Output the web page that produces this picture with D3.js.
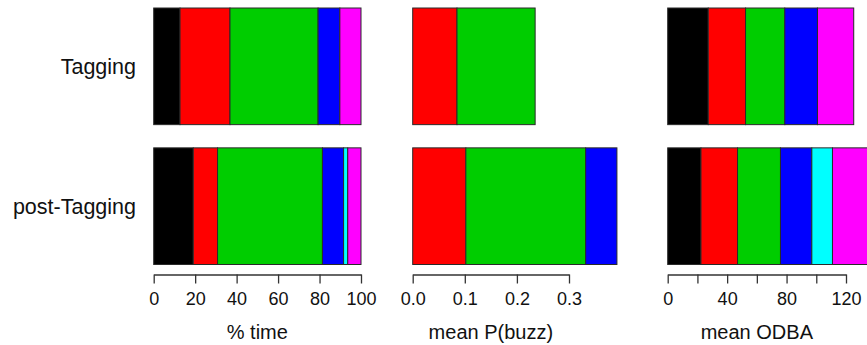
<!DOCTYPE html>
<html>
<head>
<meta charset="utf-8">
<script src="https://cdn.jsdelivr.net/npm/d3@7"></script>
<style>
  html, body { margin: 0; padding: 0; background: #fff; }
  svg { display: block; font-family: "Liberation Sans", Arial, sans-serif; }
</style>
</head>
<body>
<svg id="chart" width="867" height="345"></svg>
<script>
// Rows (tagging period) and behavioural states
const rows = ["Tagging", "post-Tagging"];
const states = ["rest", "travel", "forage", "socialise", "other", "unknown"];
const stateColours = ["#000000", "#FF0000", "#00CD00", "#0000FF", "#00FFFF", "#FF00FF"];

// Percentage of time spent in each state
const pctTime = [
  [12.7, 24.1, 42.5, 10.5, 0, 10.2],
  [19.1, 11.7, 50.6, 10.2, 2.0, 6.4]
];
// Mean probability of a buzz per state
const meanBuzz = [
  [0, 0.085, 0.150, 0, 0, 0],
  [0, 0.102, 0.230, 0.060, 0, 0]
];
// Mean ODBA per state
const meanOdba = [
  [27.3, 25.1, 26.4, 22.0, 0, 24.4],
  [22.4, 24.6, 28.9, 21.1, 13.9, 30.0]
];

// Axis ticks and the labels printed under them
const timeTicks = [0, 20, 40, 60, 80, 100];
const timeLabels = ["0", "20", "40", "60", "80", "100"];
const buzzTicks = [0, 0.1, 0.2, 0.3];
const buzzLabels = ["0.0", "0.1", "0.2", "0.3"];
const odbaTicks = [0, 20, 40, 60, 80, 100, 120];
const odbaLabels = ["0", "", "40", "", "80", "", "120"];

const svg = d3.select("#chart");

const y = d3.scaleBand().domain(rows).range([8, 264.5]).paddingInner(0.166).paddingOuter(0);

const panels = [
  { values: pctTime, domain: [0, 100], range: [153.7, 361], ticks: timeTicks, labels: timeLabels, title: "% time" },
  { values: meanBuzz, domain: [0, 0.3], range: [412.7, 569], ticks: buzzTicks, labels: buzzLabels, title: "mean P(buzz)" },
  { values: meanOdba, domain: [0, 120], range: [667.7, 846], ticks: odbaTicks, labels: odbaLabels, title: "mean ODBA" }
];

const axisY = 274.5;

panels.forEach(p => {
  const x = d3.scaleLinear().domain(p.domain).range(p.range);
  const g = svg.append("g");

  rows.forEach((row, ri) => {
    let acc = 0;
    const segs = p.values[ri].map((v, si) => {
      const s = { x0: acc, x1: acc + v, colour: stateColours[si] };
      acc += v;
      return s;
    }).filter(s => s.x1 > s.x0);

    g.selectAll(null)
      .data(segs)
      .enter().append("rect")
      .attr("x", d => x(d.x0))
      .attr("y", y(row))
      .attr("width", d => x(d.x1) - x(d.x0))
      .attr("height", y.bandwidth())
      .attr("fill", d => d.colour)
      .attr("stroke", "#2a2a2a")
      .attr("stroke-width", 1);
  });

  // Bottom axis
  const axis = d3.axisBottom(x)
    .tickValues(p.ticks)
    .tickFormat((d, i) => p.labels[i])
    .tickSizeInner(9)
    .tickSizeOuter(0)
    .tickPadding(8.5);

  const ag = g.append("g")
    .attr("transform", `translate(0,${axisY})`)
    .call(axis);
  ag.select(".domain").attr("stroke", "#333").attr("stroke-width", 1.3);
  ag.selectAll(".tick line").attr("stroke", "#333").attr("stroke-width", 1.3);
  ag.selectAll(".tick text")
    .attr("fill", "#111")
    .style("font-size", "18px")
    .attr("font-family", "'Liberation Sans', Arial, sans-serif");

  g.append("text")
    .attr("x", (p.range[0] + p.range[1]) / 2)
    .attr("y", 338.5)
    .attr("text-anchor", "middle")
    .attr("fill", "#111")
    .style("font-size", "20px")
    .text(p.title);
});

// Row labels
svg.selectAll(".rowlab")
  .data(rows)
  .enter().append("text")
  .attr("class", "rowlab")
  .attr("x", 136)
  .attr("y", d => y(d) + y.bandwidth() / 2)
  .attr("dy", "0.35em")
  .attr("text-anchor", "end")
  .attr("fill", "#111")
  .style("font-size", "21.5px")
  .text(d => d);
</script>
</body>
</html>
